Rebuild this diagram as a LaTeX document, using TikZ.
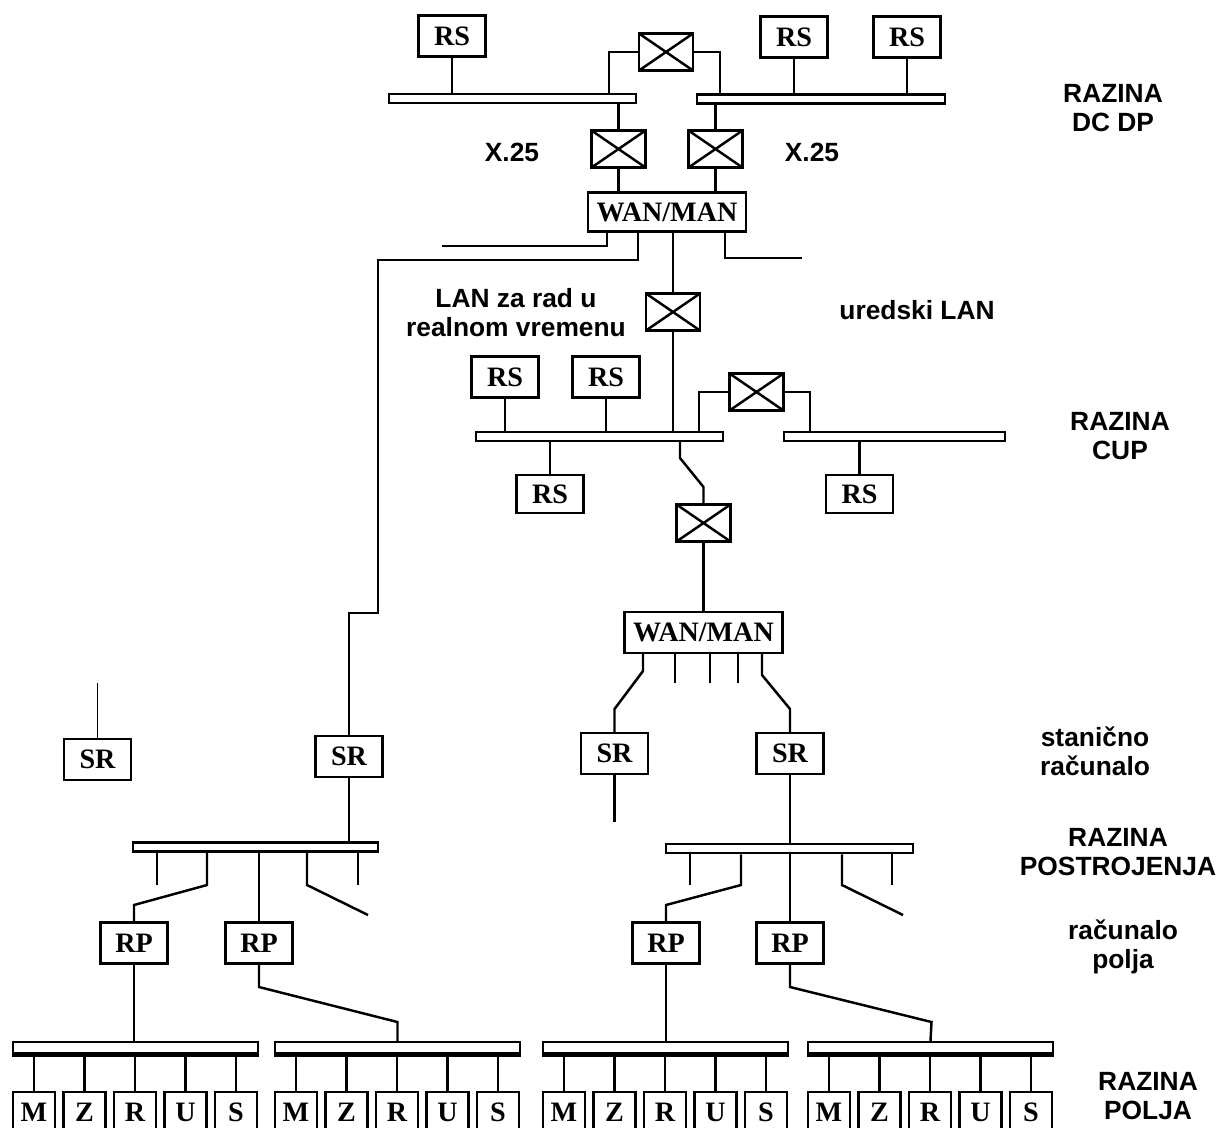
\documentclass[tikz,border=0pt]{standalone}
\usepackage{fontspec}
\setmainfont{Liberation Serif}
\newfontfamily\lblfont{Liberation Sans}
\usetikzlibrary{calc}

\begin{document}
\begin{tikzpicture}[x=0.02cm, y=-0.02cm, line width=1.4pt,
    box/.style={draw, font=\bfseries\fontsize{16}{16}\selectfont, minimum width=1.34cm, minimum height=0.82cm, inner sep=0pt},
    wan/.style={box, minimum width=3.16cm, minimum height=0.78cm},
    sw/.style={draw, minimum width=1.08cm, minimum height=0.74cm, inner sep=0pt,
      path picture={\draw (path picture bounding box.north west) -- (path picture bounding box.south east)
        (path picture bounding box.south west) -- (path picture bounding box.north east);}},
    bus/.style={draw, fill=white, minimum height=0.18cm, inner sep=0pt},
    fbus/.style={draw, fill=white, minimum width=4.9cm, minimum height=0.28cm, inner sep=0pt},
    fbox/.style={box, minimum width=0.84cm, minimum height=0.8cm, anchor=north},
    lbl/.style={font=\lblfont\bfseries\fontsize{15}{16.5}\selectfont, align=center}]
  \useasboundingbox (0,0) rectangle (1219,1127);

  % razina DC DP
  \node[box] (rs1) at (452,36) {RS};
  \node[box] (rs2) at (794,37) {RS};
  \node[box] (rs3) at (907,37) {RS};
  \node[bus, minimum width=4.94cm] (dcL) at (512.5,98.5) {};
  \node[bus, minimum width=4.96cm] (dcR) at (821,99) {};
  \node[sw] (swT) at (666,52) {};
  \node[sw] (swL) at (618.5,149) {};
  \node[sw] (swR) at (715.5,149) {};
  \node[wan] (wan1) at (667,212) {WAN/MAN};
  \draw (rs1.south) -- (rs1.south |- dcL.north);
  \draw (rs2.south) -- (rs2.south |- dcR.north);
  \draw (rs3.south) -- (rs3.south |- dcR.north);
  \draw (609,0 |- dcL.north) -- (609,0 |- swT.west) -- (swT.west);
  \draw (swT.east) -- (720,0 |- swT.east) -- (720,0 |- dcR.north);
  \draw (swL.north) -- (swL.north |- dcL.south);
  \draw (swL.south) -- (swL.south |- wan1.north);
  \draw (swR.north) -- (swR.north |- dcR.south);
  \draw (swR.south) -- (swR.south |- wan1.north);

  % odvodi iz WAN/MAN
  \node[sw] (swM) at (673,312) {};
  \node[box] (sr1) at (349,756.5) {SR};
  \coordinate (wanA) at (442,246);
  \coordinate (wanB) at (802,258);
  \draw (607,0 |- wan1.south) -- (607,246) -- (wanA);
  \draw (638,0 |- wan1.south) -- (638,260) -- (378,260) -- (378,613) -- (349,613) -- (sr1.north);
  \draw (swM.north |- wan1.south) -- (swM.north);
  \draw (725,0 |- wan1.south) -- (725,258) -- (wanB);

  % razina CUP
  \node[bus, minimum width=4.94cm] (cupL) at (599.5,436.5) {};
  \node[bus, minimum width=4.42cm] (cupR) at (894.5,436.5) {};
  \node[box] (rs4) at (505,377) {RS};
  \node[box] (rs5) at (606,377) {RS};
  \node[box, minimum height=0.76cm] (rs6) at (550,494) {RS};
  \node[box, minimum height=0.76cm] (rs7) at (859.5,494) {RS};
  \node[sw] (swC) at (756.5,392) {};
  \node[sw] (swD) at (703.5,523) {};
  \draw (swM.south) -- (swM.south |- cupL.north);
  \draw (rs4.south) -- (rs4.south |- cupL.north);
  \draw (rs5.south) -- (rs5.south |- cupL.north);
  \draw (rs6.north) -- (rs6.north |- cupL.south);
  \draw (rs7.north) -- (rs7.north |- cupR.south);
  \draw (699,0 |- cupL.north) -- (699,0 |- swC.west) -- (swC.west);
  \draw (swC.east) -- (810,0 |- swC.east) -- (810,0 |- cupR.north);
  \draw (680,0 |- cupL.south) -- (680,458) -- (703.5,487) -- (swD.north);

  % WAN/MAN prema stanicama
  \node[wan, minimum height=0.82cm] (wan2) at (703.5,632.5) {WAN/MAN};
  \node[box] (sr3) at (614.5,753.5) {SR};
  \node[box] (sr4) at (790,753.5) {SR};
  \draw (swD.south) -- (wan2.north);
  \draw (643,0 |- wan2.south) -- (643,671) -- (614.5,709) -- (sr3.north);
  \draw (762,0 |- wan2.south) -- (762,675) -- (790,709) -- (sr4.north);
  \foreach \x [count=\i] in {675,710,738}{
    \coordinate (wS\i) at (\x,683);
    \draw (wS\i |- wan2.south) -- (wS\i);
  }
  \coordinate (sr3e) at (614.5,822);
  \draw (sr3.south) -- (sr3e);
  \node[box] (sr0) at (97.5,759.5) {SR};
  \coordinate (sr0e) at (97.5,683);
  \draw[line width=1pt] (sr0.north) -- (sr0e);

  % razina postrojenja
  \node[bus, minimum width=4.9cm] (plL) at (255.5,847) {};
  \node[bus, minimum width=4.94cm] (plR) at (789.5,848.5) {};
  \node[box] (rp1) at (134,943) {RP};
  \node[box] (rp2) at (259,943) {RP};
  \node[box] (rp3) at (666,943) {RP};
  \node[box] (rp4) at (790,943) {RP};
  \draw (sr1.south) -- (sr1.south |- plL.north);
  \draw (sr4.south) -- (sr4.south |- plR.north);
  \draw (207,0 |- plL.south) -- (207,885) -- (134,905) -- (rp1.north);
  \draw (rp2.north |- plL.south) -- (rp2.north);
  \draw (741,0 |- plR.south) -- (741,885) -- (666,905) -- (rp3.north);
  \draw (rp4.north |- plR.south) -- (rp4.north);
  \foreach \x/\bb [count=\i] in {157/plL,358/plL,690/plR,892/plR}{
    \coordinate (pS\i) at (\x,885);
    \draw (pS\i |- \bb.south) -- (pS\i);
  }
  \coordinate (pD1) at (368,915);
  \coordinate (pD2) at (903,915);
  \draw (307,0 |- plL.south) -- (307,885) -- (pD1);
  \draw (842,0 |- plR.south) -- (842,885) -- (pD2);

  % razina polja
  \foreach \b/\bx in {1/13,2/275,3/543,4/808}{
    \node[fbus] (fb\b) at (\bx+122.5,1049) {};
    \draw[line width=3pt] ([yshift=1.5pt]fb\b.south west) -- ([yshift=1.5pt]fb\b.south east);
    \foreach \l [count=\i from 0] in {M,Z,R,U,S}{
      \node[fbox] (f\b\l) at (\bx+21+50.5*\i,1091) {\l};
      \draw (f\b\l.north) -- (f\b\l.north |- fb\b.south);
    }
  }
  \draw (rp1.south) -- (rp1.south |- fb1.north);
  \draw (rp2.south) -- (259,987) -- (397.5,1022) -- (fb2.north);
  \draw (rp3.south) -- (rp3.south |- fb3.north);
  \draw (rp4.south) -- (790,987) -- (931.5,1022) -- (fb4.north);

  % oznake
  \node[lbl] (tDC) at (1113,108) {RAZINA\\DC DP};
  \node[lbl] (tX1) at (512,152) {X.25};
  \node[lbl] (tX2) at (812,152) {X.25};
  \node[lbl] (tLAN) at (516,313) {LAN za rad u\\realnom vremenu};
  \node[lbl] (tUred) at (917,310) {uredski LAN};
  \node[lbl] (tCUP) at (1120,436) {RAZINA\\CUP};
  \node[lbl] (tSR) at (1095,751) {stanično\\računalo};
  \node[lbl] (tPostr) at (1118,852) {RAZINA\\POSTROJENJA};
  \node[lbl] (tRP) at (1123,947) {računalo\\polja};
  \node[lbl] (tPolja) at (1148,1096) {RAZINA\\POLJA};
\end{tikzpicture}
\end{document}
